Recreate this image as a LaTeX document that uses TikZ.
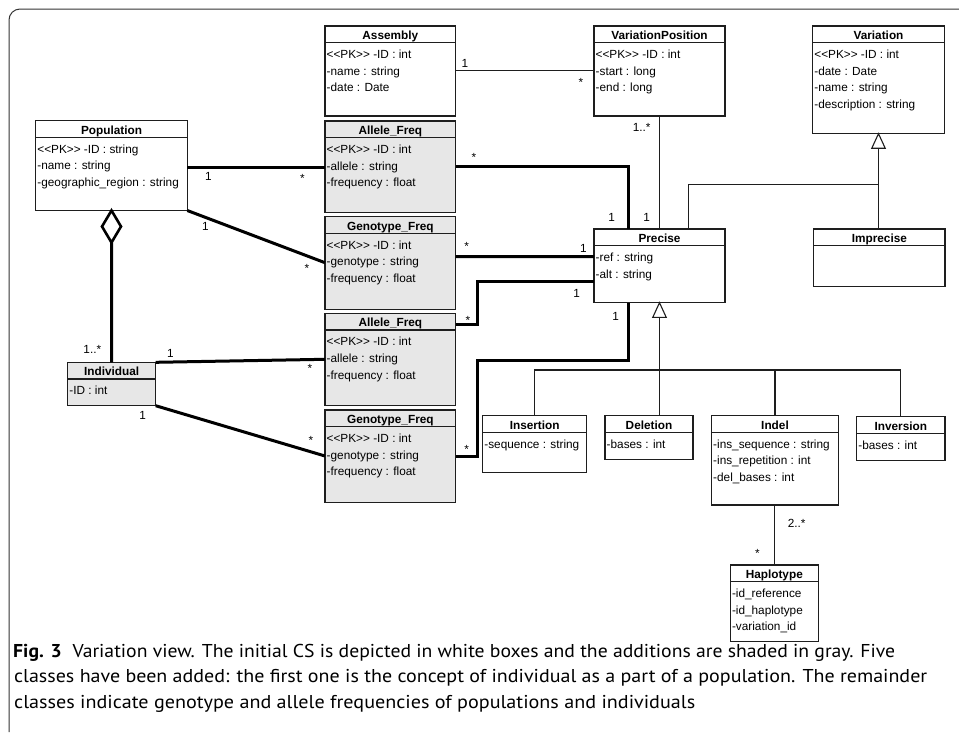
\documentclass[tikz,border=0pt]{standalone}
\usepackage{fontspec}
\usepackage{graphicx}
\setmainfont{Liberation Sans}
\newfontfamily\umlfont{Liberation Sans}
\newfontfamily\capfont{PT Sans}
\usetikzlibrary{fit}

\definecolor{ink}{RGB}{30,30,30}
\definecolor{addgray}{RGB}{231,231,231}

\tikzset{
  umlbox/.style={draw=ink, line width=1.2pt, inner sep=0pt, outer sep=0pt},
  plainfill/.style={fill=white},
  addfill/.style={fill=addgray},
  umlrule/.style={draw=ink, line width=1.1pt},
  umltitle/.style={font={\umlfont\bfseries\fontsize{11.8}{14}\selectfont}, inner sep=0pt, anchor=base},
  umlattr/.style={font={\umlfont\fontsize{11.8}{14}\selectfont}, inner sep=0pt, anchor=base west},
  mult/.style={font={\umlfont\fontsize{11.8}{14}\selectfont}, inner sep=0pt, anchor=base},
  thinline/.style={draw=ink, line width=1.1pt},
  thickline/.style={draw=black, line width=3pt},
  frameline/.style={draw=black!80, line width=1pt, rounded corners=11pt},
  capline/.style={font={\capfont\fontsize{18.6}{22}\selectfont}, inner sep=0pt, anchor=base west},
}

% \umlclass{name}{x1}{y1}{x2}{y2}{fill style}{title}{attributes}
\newcommand\umlclass[8]{%
  \node[umlbox, #6, fit={(#2,#3) (#4,#5)}] (#1) {};
  \draw[umlrule] ([yshift=-16.7pt]#1.north west) -- ([yshift=-16.7pt]#1.north east);
  \node[umltitle] (#1-t) at ([yshift=-13.3pt]#1.north) {#7};
  \foreach \a [count=\i] in {#8} {
    \node[umlattr] (#1-\i) at ([xshift=1.5pt, yshift={-32.3pt-(\i-1)*16.7pt}]#1.north west) {\a};
  }
}

\begin{document}
\begin{tikzpicture}[x=1pt, y=-1pt]
\useasboundingbox (0,0) rectangle (959,732);

% outer frame, open to the right and bottom
\draw[frameline] (9,732) -- (9,9) -- (959,9);

% classes of the initial schema (white) and the additions (gray)
\umlclass{asm}{325}{26}{455.7}{116}{plainfill}{Assembly}{<<PK>> -ID : int, -name : string, -date : Date}
\umlclass{vp}{594}{26}{725}{116}{plainfill}{VariationPosition}{<<PK>> -ID : int, -start : long, -end : long}
\umlclass{var}{812.7}{26}{944.3}{133.7}{plainfill}{Variation}{<<PK>> -ID : int, -date : Date, -name : string, -description : string}
\umlclass{pop}{35.7}{120.7}{187.3}{210.5}{plainfill}{Population}{<<PK>> -ID : string, -name : string, -geographic\_region : string}
\umlclass{afa}{325}{121}{455.7}{212.3}{addfill}{Allele\_Freq}{<<PK>> -ID : int, -allele : string, -frequency : float}
\umlclass{gfa}{325}{216.7}{455.7}{309.3}{addfill}{Genotype\_Freq}{<<PK>> -ID : int, -genotype : string, -frequency : float}
\umlclass{pre}{594}{229}{725}{302.7}{plainfill}{Precise}{-ref : string, -alt : string}
\umlclass{imp}{813.7}{229}{945}{286.3}{plainfill}{Imprecise}{}
\umlclass{afb}{325}{313.3}{455.7}{405.7}{addfill}{Allele\_Freq}{<<PK>> -ID : int, -allele : string, -frequency : float}
\umlclass{gfb}{325}{410}{455.7}{502.3}{addfill}{Genotype\_Freq}{<<PK>> -ID : int, -genotype : string, -frequency : float}
\umlclass{ind}{67.7}{362.3}{155.7}{405.7}{addfill}{Individual}{-ID : int}
\umlclass{ins}{482.7}{415.7}{586.7}{472.7}{plainfill}{Insertion}{-sequence : string}
\umlclass{del}{605}{415.7}{693}{459.3}{plainfill}{Deletion}{-bases : int}
\umlclass{idl}{711.5}{415.7}{838.5}{505}{plainfill}{Indel}{-ins\_sequence : string, -ins\_repetition : int, -del\_bases : int}
\umlclass{inv}{856.7}{416.7}{945}{460.7}{plainfill}{Inversion}{-bases : int}
\umlclass{hap}{730.3}{565}{818.3}{641.7}{plainfill}{Haplotype}{-id\_reference, -id\_haplotype, -variation\_id}

% plain associations
\draw[thinline] ([yshift=-44.7pt]asm.north east) -- ([yshift=-44.7pt]vp.north west);
\draw[thinline] (vp.south) -- (pre.north);
\draw[thinline] (hap.north |- idl.south) -- (hap.north);

% generalisation Variation <- Precise, Imprecise
\coordinate (vtri) at ([yshift=-14.5pt]var.south);
\draw[thinline] (imp.north -| vtri) -- (vtri);
\draw[thinline] ([xshift=94.3pt]pre.north west) |- ([yshift=44.3pt]imp.north -| vtri);
\draw[thinline, fill=white] (var.south) -- ++(-6.7,14.5) -- ++(13.4,0) -- cycle;

% generalisation Precise <- Insertion, Deletion, Indel, Inversion
\coordinate (ptri) at ([yshift=-14.6pt]pre.south);
\coordinate (bus) at ([yshift=-67.3pt]pre.south);
\draw[thinline] (ptri) -- (bus |- del.north);
\draw[thinline] (ins.north) |- (bus) -| (inv.north);
\draw[thinline] (idl.north) -- (idl.north |- bus);
\draw[thinline, fill=white] (pre.south) -- ++(-6.7,14.6) -- ++(13.4,0) -- cycle;

% associations of the added classes
\draw[thickline] ([yshift=-46.3pt]pop.north east) -- ([yshift=-46pt]afa.north west);
\draw[thickline] (pop.south east) -- ([yshift=-46pt]gfa.north west);
\draw[thickline] (ind.north east) -- ([yshift=-46pt]afb.north west);
\draw[thickline] (ind.south east) -- ([yshift=-46pt]gfb.north west);
\draw[thickline] ([yshift=-45.7pt]afa.north east) -| ([xshift=34.3pt]pre.north west);
\draw[thickline] ([yshift=-40pt]gfa.north east) -- ([yshift=-27.7pt]pre.north west);
\draw[thickline] ([yshift=-11pt]afb.north east) -- ++(21.3,0) |- ([yshift=-52.3pt]pre.north west);
\draw[thickline] ([yshift=-46pt]gfb.north east) -- ++(21.3,0) -- ++(0,-96) -| ([xshift=34.3pt]pre.south west);

% aggregation Population <>- Individual
\coordinate (dia) at ([yshift=-32pt]pop.south);
\draw[thickline] (dia) -- (ind.north);
\draw[draw=black, line width=2.6pt, fill=white] (pop.south) -- ++(-9.5,16) -- ++(9.5,16) -- ++(9.5,-16) -- cycle;

% multiplicities
\node[mult] (m1) at (465,67.6) {1};
\node[mult] (m2) at (581,86.9) {*};
\node[mult] (m3) at (208.3,180) {1};
\node[mult] (m4) at (302.3,182.6) {*};
\node[mult] (m5) at (205.3,230.3) {1};
\node[mult] (m6) at (307,272.2) {*};
\node[mult] (m7) at (92.3,353.3) {1..*};
\node[mult] (m8) at (170.3,357) {1};
\node[mult] (m9) at (310,372.6) {*};
\node[mult] (m10) at (142.7,419.3) {1};
\node[mult] (m11) at (311,444.9) {*};
\node[mult] (m12) at (474,161.2) {*};
\node[mult] (m13) at (611.7,221) {1};
\node[mult] (m14) at (466.7,250.2) {*};
\node[mult] (m15) at (583.3,252) {1};
\node[mult] (m16) at (468,324.2) {*};
\node[mult] (m17) at (576.7,297.6) {1};
\node[mult] (m18) at (466.7,453.6) {*};
\node[mult] (m19) at (615.7,320) {1};
\node[mult] (m20) at (641.7,131) {1..*};
\node[mult] (m21) at (646.7,221) {1};
\node[mult] (m22) at (796.7,527) {2..*};
\node[mult] (m23) at (757.3,557.6) {*};

% caption
\node[capline] (cap1) at (13,657.3) {\resizebox{882pt}{\height}{\textbf{Fig. 3}\hspace{0.55em}Variation view. The initial CS is depicted in white boxes and the additions are shaded in gray. Five}};
\node[capline] (cap2) at (14,682.8) {\resizebox{913pt}{\height}{classes have been added: the first one is the concept of individual as a part of a population. The remainder}};
\node[capline] (cap3) at (14,708.3) {\resizebox{681pt}{\height}{classes indicate genotype and allele frequencies of populations and individuals}};
\end{tikzpicture}
\end{document}
